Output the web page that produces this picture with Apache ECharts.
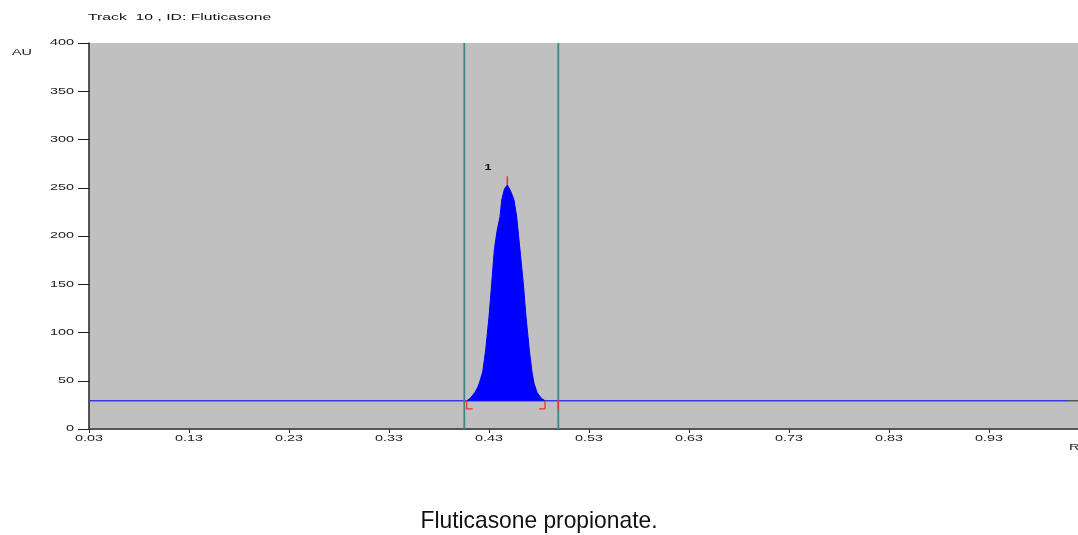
<!DOCTYPE html>
<html><head><meta charset="utf-8">
<script src="https://cdn.jsdelivr.net/npm/echarts@6/dist/echarts.min.js"></script>
<style>html,body{margin:0;padding:0;background:#fff}#c{width:1078px;height:535px}</style>
</head><body><div id="c"></div>
<script>
const titleText = 'Track  10 , ID: Fluticasone';
const captionText = 'Fluticasone propionate.';
const yAxisName = 'AU';
const xAxisName = 'R';
const yTicks = [0,50,100,150,200,250,300,350,400];
const xTicks = [0.03,0.13,0.23,0.33,0.43,0.53,0.63,0.73,0.83,0.93];
const xMin = 0.03, xMax = 1.019, xStep = 0.1;
const yMin = 0, yMax = 400;
const baselineAU = 29.3;
const baselineEndRf = 1.009;
const integrationBounds = [0.4053, 0.4993];
const peakRf = [0.4077,0.4110,0.4127,0.4160,0.4185,0.4203,0.4237,0.4267,0.4300,0.4327,0.4353,0.4380,0.4410,0.4427,0.4455,0.4483,0.4510,0.4530,0.4550,0.4577,0.4610,0.4643,0.4670,0.4703,0.4730,0.4750,0.4780,0.4810,0.4835,0.4860];
const peakAU = [29.3,31.5,33.5,38.0,43.0,47.4,59.1,81.9,116.4,151.0,185.5,205.0,220.0,237.3,249.0,252.8,248.0,243.0,237.3,220.0,185.5,151.0,116.4,81.9,59.0,47.4,38.0,33.5,31.0,29.3];
const peakApexRf = 0.4483, peakApexAU = 252.8;
const peakLabel = '1';
const peakLabelPos = [0.429, 271];

const chart = echarts.init(document.getElementById('c'));
const red = '#ff2a2a';
const smallFont = '9px "Liberation Sans", Arial, sans-serif';
function seg(pts, color, w, z){return {type:'line', data:pts, symbol:'none', silent:true, lineStyle:{color:color, width:w||1.2}, z:z||5, animation:false};}
chart.setOption({
  animation:false,
  backgroundColor:'#ffffff',
  grid:{left:89, right:0, top:43, bottom:106, show:true, backgroundColor:'#c0c0c0', borderWidth:0, containLabel:false, outerBoundsMode:'none'},
  xAxis:{type:'value', min:xMin, max:xMax, interval:xStep,
    axisLine:{show:true, onZero:false, lineStyle:{color:'#555', width:2}},
    axisTick:{show:true, inside:false, length:4, lineStyle:{color:'#333'}},
    axisLabel:{show:false},
    splitLine:{show:false}},
  yAxis:{type:'value', min:yMin, max:yMax, interval:50,
    axisLine:{show:true, lineStyle:{color:'#222', width:1.5}},
    axisTick:{show:true, length:11, lineStyle:{color:'#222'}},
    axisLabel:{show:false},
    splitLine:{show:false}},
  series:[
    seg([[xMin, baselineAU],[baselineEndRf, baselineAU]], '#3a3ae0', 1.3, 2),
    seg([[baselineEndRf, baselineAU],[xMax, baselineAU]], '#555', 1.3, 2),
    seg([[integrationBounds[0], yMin],[integrationBounds[0], yMax]], '#3e8585', 1.8, 4),
    seg([[integrationBounds[1], yMin],[integrationBounds[1], yMax]], '#3e8585', 1.8, 4),
    {type:'line', data:peakRf.map((r,i)=>[r, peakAU[i]]), symbol:'none', silent:true,
     lineStyle:{color:'#0000ff', width:1}, areaStyle:{color:'#0000ff', opacity:1, origin:baselineAU}, z:3},
    seg([[peakApexRf, peakApexAU],[peakApexRf, peakApexAU+9]], red, 1.5),
    seg([[peakRf[0]+0.006, baselineAU-8.5],[peakRf[0], baselineAU-8.5],[peakRf[0], baselineAU]], red, 1.3),
    seg([[peakRf[peakRf.length-1]-0.006, baselineAU-8.5],[peakRf[peakRf.length-1], baselineAU-8.5],[peakRf[peakRf.length-1], baselineAU]], red, 1.3),
    seg([[integrationBounds[1], baselineAU-8.5],[integrationBounds[1], baselineAU]], red, 1.3)
  ]
});

// Text drawn as wide bitmap-style labels, positioned through the chart's own scales
const toPx = (p) => chart.convertToPixel({gridIndex:0}, p);
const g = [];
const wideX = 1.6;
yTicks.forEach(v => {
  const p = toPx([xMin, v]);
  g.push({type:'text', x:p[0]-15, y:p[1], scaleX:wideX, silent:true,
    style:{text:String(v), font:smallFont, fill:'#222', align:'right', verticalAlign:'middle'}});
});
xTicks.forEach(v => {
  const p = toPx([v, 0]);
  g.push({type:'text', x:p[0], y:p[1]+10, scaleX:wideX, silent:true,
    style:{text:v.toFixed(2), font:smallFont, fill:'#222', align:'center', verticalAlign:'middle'}});
});
const lp = toPx(peakLabelPos);
g.push({type:'text', x:lp[0], y:lp[1], scaleX:1.4, silent:true,
  style:{text:peakLabel, font:'bold 9px "Liberation Sans", Arial', fill:'#111', align:'center', verticalAlign:'middle'}});
g.push({type:'text', x:88, y:18, scaleX:1.75, silent:true,
  style:{text:titleText, font:smallFont, fill:'#111', align:'left', verticalAlign:'middle'}});
g.push({type:'text', x:12, y:53, scaleX:1.6, silent:true,
  style:{text:yAxisName, font:smallFont, fill:'#222', align:'left', verticalAlign:'middle'}});
g.push({type:'text', x:1069, y:448, scaleX:1.6, silent:true,
  style:{text:xAxisName, font:smallFont, fill:'#222', align:'left', verticalAlign:'middle'}});
g.push({type:'text', x:539, y:521, scaleX:0.95, silent:true,
  style:{text:captionText, font:'24px "Liberation Sans Narrow", "Liberation Sans", Arial', fill:'#111', align:'center', verticalAlign:'middle'}});
chart.setOption({graphic:g});
</script></body></html>
